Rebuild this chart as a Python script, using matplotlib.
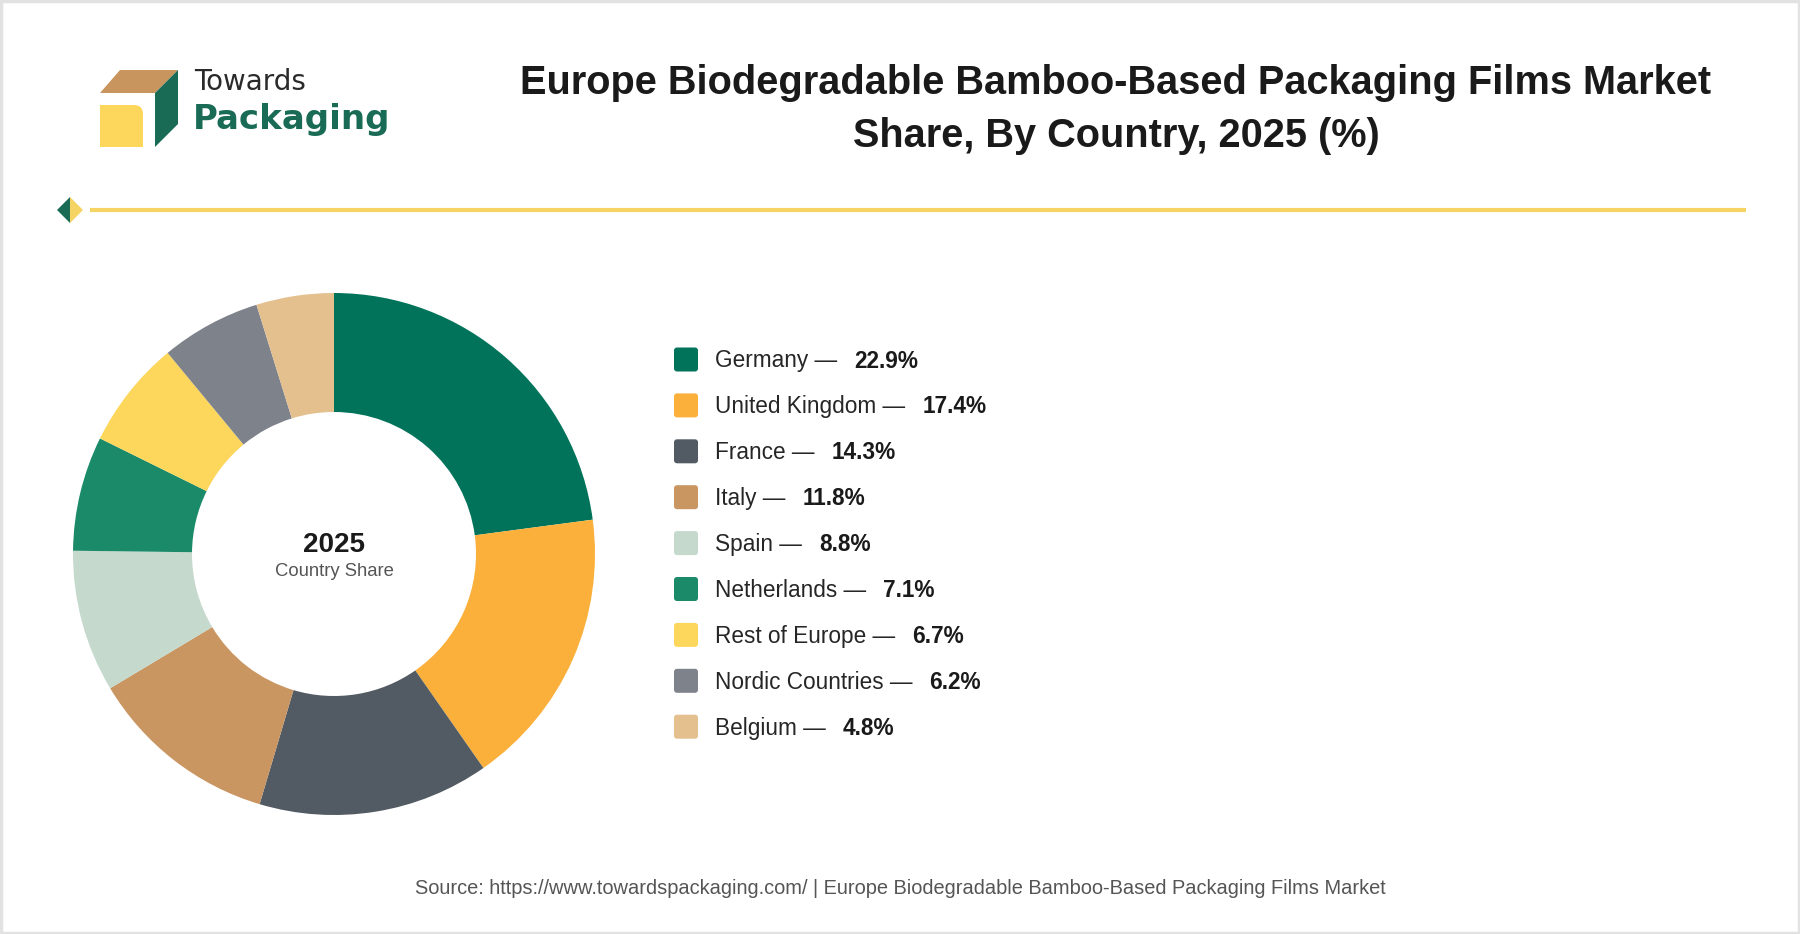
import matplotlib.pyplot as plt
from matplotlib.patches import FancyBboxPatch, Polygon, Rectangle

plt.rcParams['font.family'] = ['Liberation Sans', 'DejaVu Sans']

countries = ["Germany", "United Kingdom", "France", "Italy", "Spain",
             "Netherlands", "Rest of Europe", "Nordic Countries", "Belgium"]
shares = [22.9, 17.4, 14.3, 11.8, 8.8, 7.1, 6.7, 6.2, 4.8]
colors = ["#00735A", "#FBB03B", "#525B63", "#C99561", "#C5D9CC",
          "#1A8A68", "#FDD65C", "#7E828B", "#E4C08F"]

title = "Europe Biodegradable Bamboo-Based Packaging Films Market\nShare, By Country, 2025 (%)"
source = "Source: https://www.towardspackaging.com/ | Europe Biodegradable Bamboo-Based Packaging Films Market"

W, H = 1800, 934
fig = plt.figure(figsize=(W / 100, H / 100), dpi=100)
fig.patch.set_facecolor("white")

# full-figure overlay in pixel coordinates (y downwards)
bg = fig.add_axes([0, 0, 1, 1])
bg.set_xlim(0, W)
bg.set_ylim(H, 0)
bg.axis("off")

# outer frame
bg.add_patch(Rectangle((1, 1), W - 2, H - 2, fill=False, ec="#E2E2E2", lw=2.5))

# logo
green = "#1A6B55"
bg.add_patch(Polygon([(100, 93), (120, 70), (178, 70), (155, 93)], closed=True, fc="#C8955E", ec="none"))
bg.add_patch(Polygon([(155, 93), (178, 70), (178, 124), (155, 147)], closed=True, fc=green, ec="none"))
bg.add_patch(FancyBboxPatch((100, 105), 43, 42, boxstyle="round,pad=0,rounding_size=9",
                            fc="#FDD65C", ec="none"))
bg.add_patch(Rectangle((100, 105), 20, 42, fc="#FDD65C", ec="none"))
bg.add_patch(Rectangle((100, 125), 43, 22, fc="#FDD65C", ec="none"))
bg.text(194, 90, "Towards", fontsize=20, family="DejaVu Sans", color="#2A2A2A", va="baseline")
bg.text(193, 129, "Packaging", fontsize=24.5, family="DejaVu Sans", fontweight="bold",
        color=green, va="baseline")

# title
line1, line2 = title.split("\n")
bg.text(1116, 94, line1, fontsize=28.6, fontweight="bold", color="#1A1A1A", ha="center", va="baseline")
bg.text(1116, 147, line2, fontsize=28.6, fontweight="bold", color="#1A1A1A", ha="center", va="baseline")

# divider
bg.plot([90, 1746], [210, 210], color="#F5D463", lw=3, solid_capstyle="butt")
bg.add_patch(Polygon([(57, 210), (70, 197), (70, 223)], closed=True, fc=green, ec="none"))
bg.add_patch(Polygon([(70, 197), (83, 210), (70, 223)], closed=True, fc="#F5D463", ec="none"))

# donut
cx, cy, R, r_in = 334, 554, 261, 142
ax = fig.add_axes([(cx - R) / W, (H - cy - R) / H, 2 * R / W, 2 * R / H])
ax.pie(shares, colors=colors, startangle=90, counterclock=False, radius=1,
       wedgeprops=dict(width=1 - r_in / R, edgecolor="none"))
ax.set_xlim(-1, 1)
ax.set_ylim(-1, 1)
ax.axis("off")
bg.text(cx, 552, "2025", fontsize=20, fontweight="bold", color="#1A1A1A", ha="center", va="baseline")
bg.text(cx, 576, "Country Share", fontsize=13.3, color="#555555", ha="center", va="baseline")

# legend
fig.canvas.draw()
rend = fig.canvas.get_renderer()
for i, (name, val, c) in enumerate(zip(countries, shares, colors)):
    yc = 359.5 + i * 45.9
    bg.add_patch(FancyBboxPatch((674, yc - 12), 24, 24, boxstyle="round,pad=0,rounding_size=3",
                                fc=c, ec="none"))
    t = bg.text(715, yc + 8, name + " \u2014", fontsize=16.3, color="#262626", va="baseline")
    bb = t.get_window_extent(renderer=rend)
    bg.text(715 + bb.width + 17, yc + 8, f"{val}%", fontsize=16.3, fontweight="bold",
            color="#1A1A1A", va="baseline")

# source
bg.text(900, 894, source, fontsize=14.4, color="#555555", ha="center", va="baseline")

fig.savefig("out.png", dpi=100, facecolor="white")
